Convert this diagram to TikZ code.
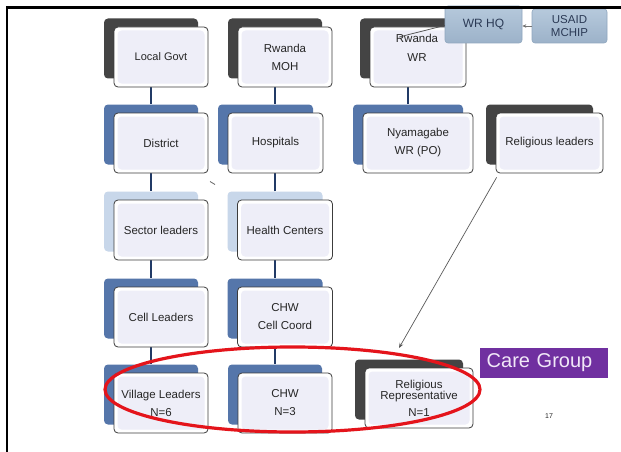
\documentclass[tikz,border=0pt]{standalone}
\usepackage{fontspec}
\setmainfont{Liberation Sans}
\usetikzlibrary{arrows.meta}

\pgfdeclarelayer{shadowlayer}
\pgfdeclarelayer{linklayer}
\pgfsetlayers{shadowlayer,linklayer,main}

\definecolor{shdark}{HTML}{444444}
\definecolor{shblue}{HTML}{5576AA}
\definecolor{shlight}{HTML}{C8D7EA}
\definecolor{lav}{HTML}{EEEEF8}
\definecolor{boxline}{HTML}{3C3C3C}
\definecolor{linkblue}{HTML}{213A66}
\definecolor{txt}{HTML}{262626}
\definecolor{hqtop}{HTML}{B6C9DC}
\definecolor{hqbot}{HTML}{9CB2C9}
\definecolor{hqline}{HTML}{8FA6BE}
\definecolor{hqtext}{HTML}{2B3A55}
\definecolor{cgpurple}{HTML}{7030A0}
\definecolor{cgtext}{HTML}{F1E8F8}
\definecolor{ringred}{HTML}{E4141B}

\tikzset{
  frontbox/.style={draw=boxline, line width=0.8pt, rounded corners=4pt, fill=white,
    minimum height=60pt, inner sep=0pt, align=center, text=txt,
    font=\fontsize{11.5}{18}\selectfont,
    path picture={\fill[lav] ([shift={(3.5pt,3.5pt)}]path picture bounding box.south west)
      rectangle ([shift={(-3.5pt,-3.5pt)}]path picture bounding box.north east);}},
  backbox/.style={rounded corners=4pt, minimum height=60pt, inner sep=0pt, fill=#1},
  link/.style={draw=linkblue, line width=2pt},
  pointer/.style={draw=black!65, line width=0.7pt, -{Stealth[length=5pt,width=4pt]}},
  hqbox/.style={rounded corners=3pt, top color=hqtop, bottom color=hqbot, draw=hqline,
    line width=0.6pt, inner sep=0pt, align=center, text=hqtext,
    font=\fontsize{11.5}{13}\selectfont},
}

% [front options] name, x, y, width, shadow colour, text
\newcommand\orgbox[7][]{%
  \begin{pgfonlayer}{shadowlayer}
    \node[backbox=#6, minimum width=#5pt] (#2S) at (#3-10,#4-8.5) {};
  \end{pgfonlayer}
  \node[frontbox, minimum width=#5pt, #1] (#2) at (#3,#4) {#7};
}

\begin{document}
\begin{tikzpicture}[x=1pt,y=-1pt]
\useasboundingbox (0,0) rectangle (621,452);
\begin{pgfonlayer}{shadowlayer}
  \fill[white] (0,0) rectangle (621,452);
\end{pgfonlayer}

% row 1
\orgbox[font=\fontsize{11}{18}\selectfont]{lg}{161}{57}{94}{shdark}{Local Govt}
\orgbox{moh}{285}{57}{94}{shdark}{Rwanda\\MOH}
\orgbox{rwr}{418}{57}{96}{shdark}{}
\node[text=txt, align=center, font=\fontsize{11.5}{19}\selectfont] (rwrtext) at (417,48) {Rwanda\\WR};

% row 2
\orgbox{dist}{161}{143}{94}{shblue}{District}
\orgbox{hosp}{275.5}{143}{95}{shblue}{Hospitals}
\orgbox{nya}{418}{143}{110}{shblue}{Nyamagabe\\WR (PO)}
\orgbox{rel}{549.5}{143}{107}{shdark}{Religious leaders}

% row 3
\orgbox{sec}{161}{230}{94}{shlight}{Sector leaders}
\orgbox{hc}{285}{230}{95}{shlight}{Health Centers}

% row 4
\orgbox{cell}{161}{317}{94}{shblue}{Cell Leaders}
\orgbox{cc}{285}{317}{95}{shblue}{CHW\\Cell Coord}

% row 5
\orgbox{vl}{161}{403}{94}{shblue}{Village Leaders\\N=6}
\orgbox{chw}{285}{403}{94}{shblue}{CHW\\N=3}
\orgbox[font=\fontsize{11.5}{11.5}\selectfont]{rr}{419}{398}{108}{shdark}{Religious\\Representative\\[5pt]N=1}

% vertical links
\begin{pgfonlayer}{linklayer}
  \draw[link] (lgS.south) -- (lgS.south |- distS.north);
  \draw[link] (distS.south) -- (distS.south |- secS.north);
  \draw[link] (secS.south) -- (secS.south |- cellS.north);
  \draw[link] (cellS.south) -- (cellS.south |- vlS.north);
  \draw[link] (mohS.south) -- (mohS.south |- hospS.north);
  \draw[link] (hcS.north) -- (hcS.north |- hospS.south);
  \draw[link] (hcS.south) -- (hcS.south |- ccS.north);
  \draw[link] (ccS.south) -- (ccS.south |- chwS.north);
  \draw[link] (rwrS.south) -- (rwrS.south |- nyaS.north);
\end{pgfonlayer}

% small stray mark
\coordinate (tickA) at (210,181.5);
\coordinate (tickB) at (215,184.5);
\draw[black!60, line width=0.8pt] (tickA) -- (tickB);

% religious leaders feed the representative
\coordinate (rrtip) at (399,348);
\draw[pointer] ([shift={(1pt,-4pt)}]rel.south west) -- (rrtip);

% headquarters and donor
\node[hqbox, minimum width=77pt, minimum height=37pt] (wrhq) at (483.5,24.5) {\raisebox{3pt}{\fontsize{12}{13}\selectfont WR HQ}};
\node[hqbox, minimum width=75pt, minimum height=34pt] (usaid) at (569.5,26) {USAID\\MCHIP};
\draw[draw=black!55, line width=0.6pt, -{Stealth[length=4pt,width=3.5pt]}] (usaid.west) -- (wrhq.east |- usaid.west);
\coordinate (rwrR) at (399,37);
\draw[black!70, line width=0.7pt] (rwrR) -- ([yshift=-1pt]wrhq.west);

% care group ring
\draw[ringred, line width=3.2pt] (292.5,389.5) ellipse [x radius=187.5, y radius=42.5];

\node[fill=cgpurple, text=cgtext, anchor=west, inner xsep=6.5pt, inner ysep=0pt,
  text width=115pt, minimum height=30pt, align=left,
  font=\fontsize{20}{20}\selectfont] (cg) at (480,363) {Care Group};

\node[font=\fontsize{7}{7}\selectfont, text=txt] (pagenum) at (549,416) {17};

% slide frame
\coordinate (frameR) at (621,7.5);
\coordinate (frameC) at (7,7.5);
\coordinate (frameB) at (7,452);
\draw[black, line width=2.6pt] (frameR) -- (frameC) -- (frameB);
\end{tikzpicture}
\end{document}
